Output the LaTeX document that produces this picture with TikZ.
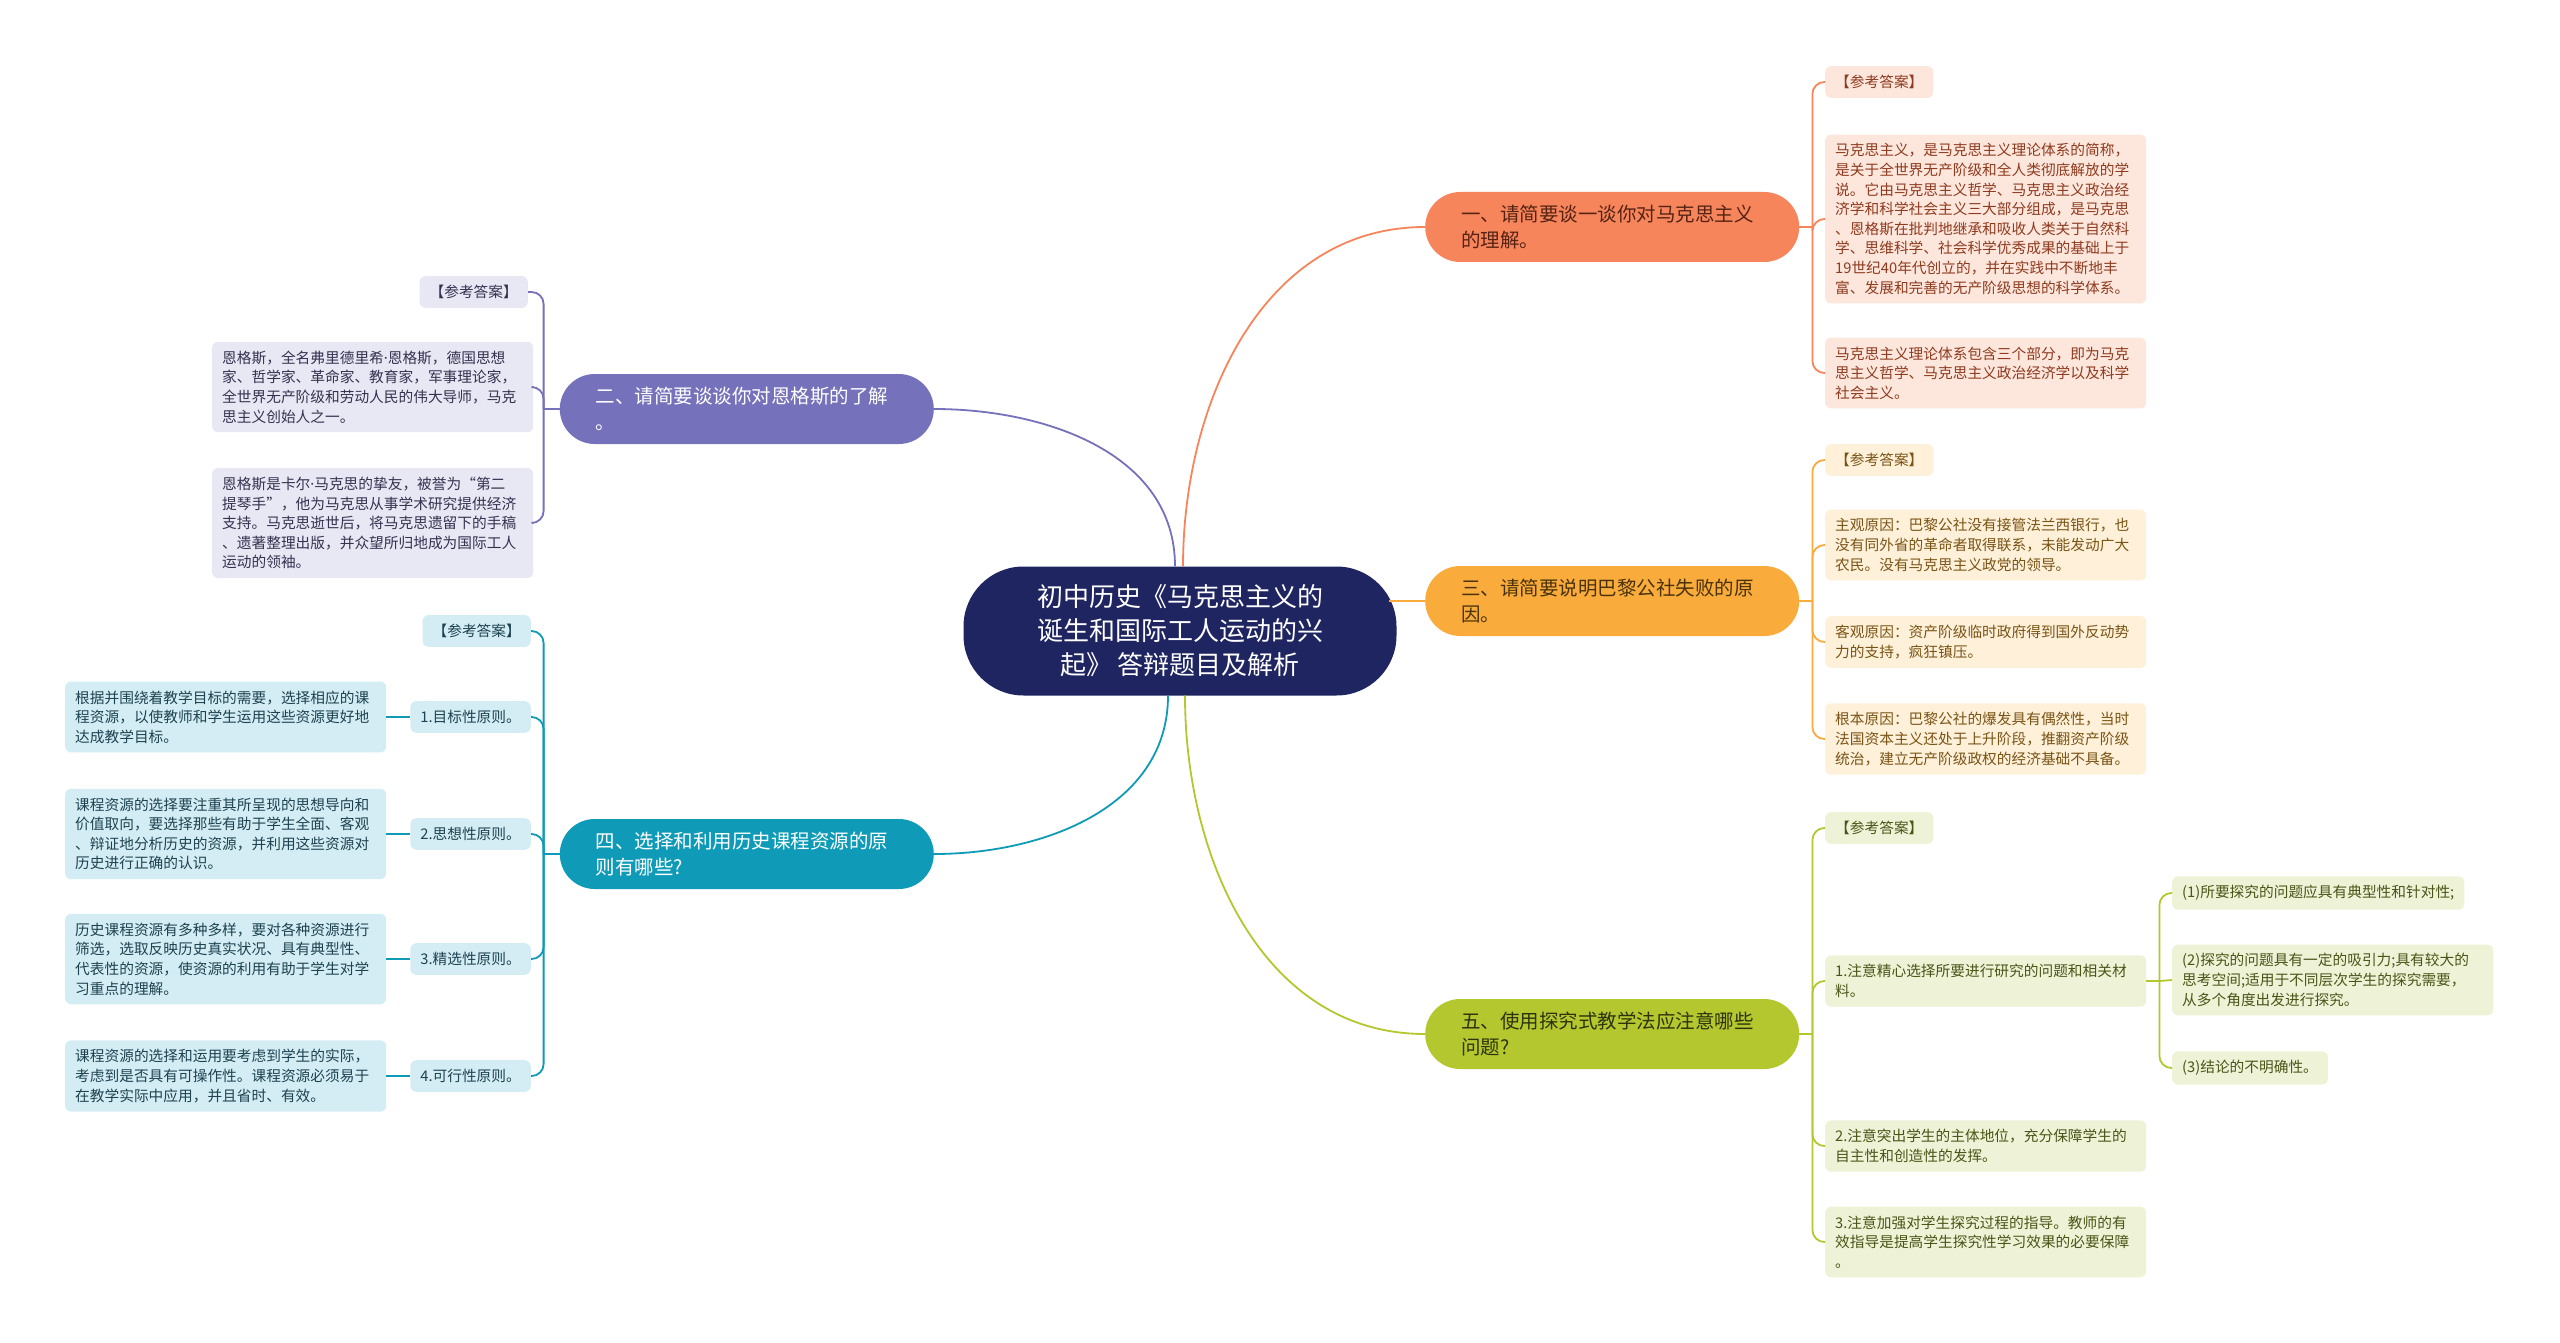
\documentclass[tikz,border=0pt]{standalone}
\usepackage{fontspec}
\setmainfont{Noto Sans CJK SC}
\newfontfamily\latinfont{Noto Sans}
\newcommand{\mdot}{{\latinfont ·}}
\usetikzlibrary{calc}
\definecolor{navy}{HTML}{1F2561}
\definecolor{oraT}{HTML}{F7855B}
\definecolor{oraL}{HTML}{FDE6DC}
\definecolor{oraD}{HTML}{8E3B1F}
\definecolor{ambT}{HTML}{F9AB3B}
\definecolor{ambL}{HTML}{FEF0D9}
\definecolor{ambD}{HTML}{7A5415}
\definecolor{grnT}{HTML}{B5C72E}
\definecolor{grnL}{HTML}{EEF2D6}
\definecolor{grnD}{HTML}{4B5518}
\definecolor{purT}{HTML}{7571BA}
\definecolor{purL}{HTML}{E8E7F4}
\definecolor{purD}{HTML}{34324F}
\definecolor{tealT}{HTML}{0F9BB8}
\definecolor{tealL}{HTML}{D4EDF4}
\definecolor{tealD}{HTML}{1D4250}
\tikzset{
  root/.style={rounded corners=60pt, fill=navy, text=white, align=center, minimum width=433pt, minimum height=129pt, font=\fontsize{26}{34}\selectfont},
  topic/.style={rounded corners=35pt, text width=302pt, inner xsep=36pt, inner ysep=6pt, minimum height=70pt, align=left, font=\fontsize{19.5}{26}\selectfont},
  leaf/.style={rounded corners=6pt, inner xsep=10pt, inner ysep=9pt, align=left, font=\fontsize{14.7}{19.6}\selectfont},
  note/.style={leaf, text width=301pt},
  link/.style={line width=1.8pt, rounded corners=12pt}
}
\begin{document}
\begin{tikzpicture}[x=1pt, y=-1pt,
		oleaf/.style={fill=oraL, text=oraD},
		aleaf/.style={fill=ambL, text=ambD},
		gleaf/.style={fill=grnL, text=grnD},
		pleaf/.style={fill=purL, text=purD},
		tleaf/.style={fill=tealL, text=tealD}]
		\useasboundingbox[fill=white] (0,0) rectangle (2560,1343);
		\node[root] (R) at (1180,631) {初中历史《马克思主义的\\诞生和国际工人运动的兴\\起》 答辩题目及解析};
		\node[topic, fill=oraT, text=oraD!60!black, anchor=west] (Q1) at (1425,227) {一、请简要谈一谈你对马克思主义\\的理解。};
		\node[topic, fill=purT, text=white, anchor=east] (Q2) at (934,409) {二、请简要谈谈你对恩格斯的了解\\。};
		\node[topic, fill=ambT, text=ambD!60!black, anchor=west] (Q3) at (1425,601) {三、请简要说明巴黎公社失败的原\\因。};
		\node[topic, fill=tealT, text=white, anchor=east] (Q4) at (934,854) {四、选择和利用历史课程资源的原\\则有哪些?};
		\node[topic, fill=grnT, text=grnD!60!black, anchor=west] (Q5) at (1425,1034) {五、使用探究式教学法应注意哪些\\问题?};
		\draw[link, oraT] ([xshift=3pt]R.north) to[out=90, in=180] (Q1.west);
		\draw[link, purT] ([xshift=-5pt]R.north) to[out=90, in=0] (Q2.east);
		\draw[link, ambT] ([xshift=-8pt]Q3.west -| R.east) -- (Q3.west);
		\draw[link, tealT] ([xshift=-12pt]R.south) to[out=-90, in=0] (Q4.east);
		\draw[link, grnT] ([xshift=5pt]R.south) to[out=-90, in=180] (Q5.west);
		\node[leaf, oleaf, anchor=west] (Q1k) at (1825,82) {【参考答案】};
		\node[note, oleaf, anchor=west] (Q1a) at (1825,219) {马克思主义，是马克思主义理论体系的简称，\\是关于全世界无产阶级和全人类彻底解放的学\\说。它由马克思主义哲学、马克思主义政治经\\济学和科学社会主义三大部分组成，是马克思\\、恩格斯在批判地继承和吸收人类关于自然科\\学、思维科学、社会科学优秀成果的基础上于\\19世纪40年代创立的，并在实践中不断地丰\\富、发展和完善的无产阶级思想的科学体系。};
		\node[note, oleaf, anchor=west] (Q1b) at (1825,373) {马克思主义理论体系包含三个部分，即为马克\\思主义哲学、马克思主义政治经济学以及科学\\社会主义。};
		\node[leaf, aleaf, anchor=west] (Q3k) at (1825,460) {【参考答案】};
		\node[note, aleaf, anchor=west] (Q3a) at (1825,545) {主观原因：巴黎公社没有接管法兰西银行，也\\没有同外省的革命者取得联系，未能发动广大\\农民。没有马克思主义政党的领导。};
		\node[note, aleaf, anchor=west] (Q3b) at (1825,642) {客观原因：资产阶级临时政府得到国外反动势\\力的支持，疯狂镇压。};
		\node[note, aleaf, anchor=west] (Q3c) at (1825,739) {根本原因：巴黎公社的爆发具有偶然性，当时\\法国资本主义还处于上升阶段，推翻资产阶级\\统治，建立无产阶级政权的经济基础不具备。};
		\node[leaf, gleaf, anchor=west] (Q5k) at (1825,828) {【参考答案】};
		\node[note, gleaf, anchor=west] (Q5a) at (1825,981) {1.注意精心选择所要进行研究的问题和相关材\\料。};
		\node[leaf, gleaf, anchor=west] (Q5a1) at (2172,893) {(1)所要探究的问题应具有典型性和针对性;};
		\node[note, gleaf, anchor=west] (Q5a2) at (2172,980) {(2)探究的问题具有一定的吸引力;具有较大的\\思考空间;适用于不同层次学生的探究需要，\\从多个角度出发进行探究。};
		\node[leaf, gleaf, anchor=west] (Q5a3) at (2172,1068) {(3)结论的不明确性。};
		\node[note, gleaf, anchor=west] (Q5b) at (1825,1146) {2.注意突出学生的主体地位，充分保障学生的\\自主性和创造性的发挥。};
		\node[note, gleaf, anchor=west] (Q5c) at (1825,1242) {3.注意加强对学生探究过程的指导。教师的有\\效指导是提高学生探究性学习效果的必要保障\\。};
		\node[leaf, pleaf, anchor=east] (Q2k) at (528,292) {【参考答案】};
		\node[note, pleaf, anchor=west] (Q2a) at (212,387) {恩格斯，全名弗里德里希\mdot 恩格斯，德国思想\\家、哲学家、革命家、教育家，军事理论家，\\全世界无产阶级和劳动人民的伟大导师，马克\\思主义创始人之一。};
		\node[note, pleaf, anchor=west] (Q2b) at (212,523) {恩格斯是卡尔\mdot 马克思的挚友，被誉为“第二\\提琴手”，他为马克思从事学术研究提供经济\\支持。马克思逝世后，将马克思遗留下的手稿\\、遗著整理出版，并众望所归地成为国际工人\\运动的领袖。};
		\node[leaf, tleaf, anchor=east] (Q4k) at (531,631) {【参考答案】};
		\node[leaf, tleaf, anchor=east] (P1) at (531,717) {1.目标性原则。};
		\node[leaf, tleaf, anchor=east] (P2) at (531,834) {2.思想性原则。};
		\node[leaf, tleaf, anchor=east] (P3) at (531,959) {3.精选性原则。};
		\node[leaf, tleaf, anchor=east] (P4) at (531,1076) {4.可行性原则。};
		\node[note, tleaf, anchor=west] (D1) at (65,717) {根据并围绕着教学目标的需要，选择相应的课\\程资源，以使教师和学生运用这些资源更好地\\达成教学目标。};
		\node[note, tleaf, anchor=west] (D2) at (65,834) {课程资源的选择要注重其所呈现的思想导向和\\价值取向，要选择那些有助于学生全面、客观\\、辩证地分析历史的资源，并利用这些资源对\\历史进行正确的认识。};
		\node[note, tleaf, anchor=west] (D3) at (65,959) {历史课程资源有多种多样，要对各种资源进行\\筛选，选取反映历史真实状况、具有典型性、\\代表性的资源，使资源的利用有助于学生对学\\习重点的理解。};
		\node[note, tleaf, anchor=west] (D4) at (65,1076) {课程资源的选择和运用要考虑到学生的实际，\\考虑到是否具有可操作性。课程资源必须易于\\在教学实际中应用，并且省时、有效。};
		\coordinate (J1) at ($(Q1.east)+(13,0)$);
		\coordinate (J2) at ($(Q2.west)+(-16,0)$);
		\coordinate (J3) at ($(Q3.east)+(13,0)$);
		\coordinate (J4) at ($(Q4.west)+(-16,0)$);
		\coordinate (J5) at ($(Q5.east)+(13,0)$);
		\coordinate (J6) at ($(Q5a.east)+(13,0)$);
		\draw[link, oraT] (Q1.east) -- (J1);
		\foreach \n in {Q1k,Q1a,Q1b} \draw[link, oraT] (J1) |- (\n.west);
		\draw[link, ambT] (Q3.east) -- (J3);
		\foreach \n in {Q3k,Q3a,Q3b,Q3c} \draw[link, ambT] (J3) |- (\n.west);
		\draw[link, grnT] (Q5.east) -- (J5);
		\foreach \n in {Q5k,Q5a,Q5b,Q5c} \draw[link, grnT] (J5) |- (\n.west);
		\draw[link, grnT] (Q5a.east) -- (J6);
		\foreach \n in {Q5a1,Q5a3} \draw[link, grnT] (J6) |- (\n.west);
		\draw[link, grnT] (J6) -- (Q5a2.west);
		\draw[link, purT] (Q2.west) -- (J2);
		\foreach \n in {Q2k,Q2a,Q2b} \draw[link, purT] (J2) |- (\n.east);
		\draw[link, tealT] (Q4.west) -- (J4);
		\foreach \n in {Q4k,P1,P2,P3,P4} \draw[link, tealT] (J4) |- (\n.east);
		\foreach \i in {1,...,4} \draw[link, tealT] (P\i.west) -- (D\i.east);
	\end{tikzpicture}
\end{document}
